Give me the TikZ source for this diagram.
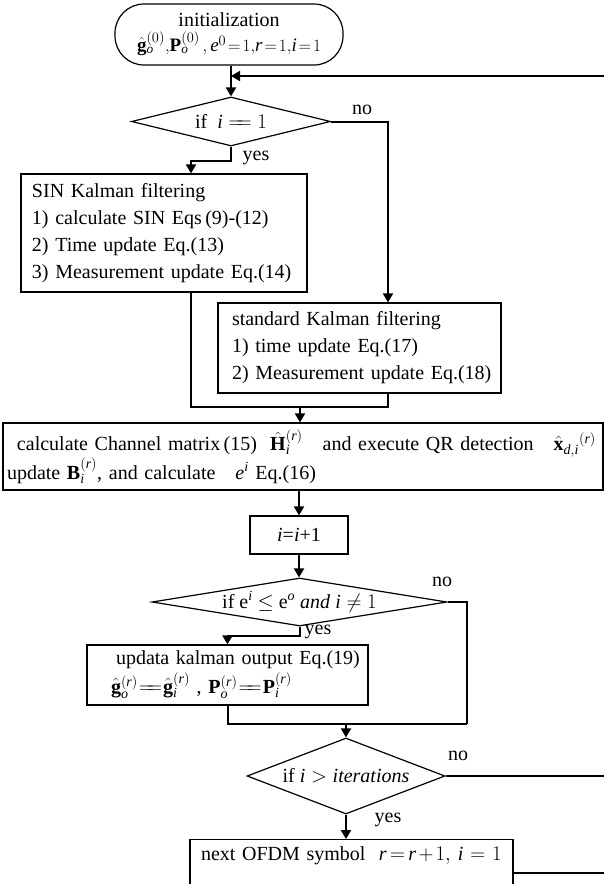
\documentclass[tikz,border=0pt]{standalone}
\usepackage{fontspec}
\setmainfont{Liberation Serif}
\usetikzlibrary{shapes.geometric,arrows.meta}

\tikzset{
  box/.style={draw, line width=1.2pt, rectangle, inner sep=0pt},
  textbox/.style={box, align=left, inner xsep=2pt},
  decision/.style={draw, line width=1.2pt, diamond, inner sep=0pt},
  conn/.style={line width=2pt},
  arr/.style={conn, -{Triangle[length=9pt,width=10pt]}},
  lbl/.style={inner sep=0pt}
}
\newcommand{\lgeq}{\mathrel{=\!\!=}}
% one unbreakable line of a box, indented by #1
\newcommand{\boxline}[2]{\mbox{\hspace{#1}#2}}

\begin{document}
\begin{tikzpicture}[x=1pt, y=-1pt, font=\fontsize{20}{27}\selectfont]
\useasboundingbox (0,0) rectangle (604,884);
\fill[white] (0,0) rectangle (604,884);
\clip (0,0) rectangle (604,884);

% start
\node[box, rounded corners=29pt, minimum width=228pt, minimum height=61pt, align=center]
  (init) at (229,34.5)
  {initialization\\[-2pt]
   {\fontsize{19}{24}\selectfont$\thickmuskip=2mu \hat{\mathbf g}_{\mathit o}^{(0)},\!\mathbf P_{\mathit o}^{(0)}\,,\mathit e^{0}=1,\!\mathit r=1,\!\mathit i=1$}};

% first test
\node[decision, aspect=4, minimum width=199pt, minimum height=49pt] (d1) at (231,121.5)
  {if\ \ $\mathit i\lgeq 1$};

% SIN Kalman filter branch
\node[textbox, text width=282pt, minimum height=118pt] (sin) at (164,233)
  {\boxline{9pt}{SIN Kalman filtering}\\
   \boxline{9pt}{1) calculate SIN Eqs\,(9)-(12)}\\
   \boxline{9pt}{2) Time update Eq.(13)}\\
   \boxline{9pt}{3) Measurement update Eq.(14)}};

% standard Kalman filter branch
\node[textbox, text width=279pt, minimum height=90pt] (std) at (359.5,348)
  {\boxline{12pt}{standard Kalman filtering}\\
   \boxline{12pt}{1) time update Eq.(17)}\\
   \boxline{12pt}{2) Measurement update Eq.(18)}};

% channel estimation and detection
\node[textbox, text width=596pt, minimum height=67pt] (chan) at (303,456.5)
  {\boxline{12pt}{calculate Channel matrix\,(15)\ \ $\hat{\mathbf H}_{\mathit i}^{(\mathit r)}$\ \ \ and execute QR detection\ \ \ $\hat{\mathbf x}_{\mathit d,\mathit i}{}^{(\mathit r)}$}\\
   \boxline{2pt}{update $\mathbf B_{\mathit i}^{(\mathit r)}$, and calculate\ \ \ $\mathit e^{\mathit i}$ Eq.(16)}};

% counter
\node[box, minimum width=98pt, minimum height=38pt] (inc) at (299,535)
  {$\mathit i$=$\mathit i$+1};

% error test
\node[decision, aspect=6.1, minimum width=295pt, minimum height=48pt] (d2) at (299.5,602)
  {if e$^{\mathit i}$ $\le$ e$^{\mathit o}$ \textit{and} $\mathit i\ne 1$};

% output update
\node[textbox, text width=277pt, minimum height=60pt] (upd) at (227.5,675)
  {\boxline{27pt}{updata kalman output Eq.(19)}\\[2pt]
   \boxline{22pt}{$\thickmuskip=1mu \hat{\mathbf g}_{\mathit o}^{(\mathit r)}\lgeq\hat{\mathbf g}_{\mathit i}^{(\mathit r)}$\ ,\ $\thickmuskip=1mu \mathbf P_{\mathit o}^{(\mathit r)}\lgeq\mathbf P_{\mathit i}^{(\mathit r)}$}};

% iteration test
\node[decision, aspect=2.6, minimum width=198pt, minimum height=76pt] (d3) at (346,776)
  {if $\mathit i > \mathit{iterations}$};

% next symbol
\node[textbox, anchor=north, inner ysep=6pt, text height=15pt, text depth=39pt,
      text width=319pt] (nxt) at (351.5,839)
  {\boxline{9pt}{next OFDM symbol\ \ $\thickmuskip=3mu \medmuskip=2mu \mathit r=\mathit r+1,\, \mathit i \;=\; 1$}};

% helper points of the connectors
\coordinate (loop) at (231,76);
\coordinate (back) at (614,76);
\coordinate (jn) at (300,407);
\coordinate (rj) at (467,724);

% connectors
\draw[arr] (d1.north |- init.south) -- (d1.north);
\draw[arr] (d1.south) -- ++(0,14) -| ([xshift=27pt]sin.north);
\draw[arr] (d1.east) -| ([xshift=28.5pt]std.north);
\draw[conn] ([xshift=27pt]sin.south) |- (jn);
\draw[conn] ([xshift=28.5pt]std.south) |- (jn);
\draw[arr] (jn) -- (jn |- chan.north);
\draw[arr] (chan.south -| inc.north) -- (inc.north);
\draw[arr] (inc.south) -- (inc.south |- d2.north);
\draw[arr] (d2.south) -- ++(0,9) -| (upd.north);
\draw[conn] (d2.east) -| (rj);
\draw[conn] (upd.south) |- (rj);
\draw[arr] (d3.north |- rj) -- (d3.north);
\draw[arr] (d3.south) -- (d3.south |- nxt.north);
\draw[conn] (d3.east) -- (d3.east -| back);
\draw[conn] (nxt.east) -| (back);
\draw[arr] (back) -- (loop);

% branch labels
\node[lbl] (no1) at (362,110) {no};
\node[lbl] (yes1) at (256,158) {yes};
\node[lbl] (no2) at (442,582) {no};
\node[lbl] (yes2) at (318,632) {yes};
\node[lbl] (no3) at (458,756) {no};
\node[lbl] (yes3) at (388,820) {yes};
\end{tikzpicture}
\end{document}
